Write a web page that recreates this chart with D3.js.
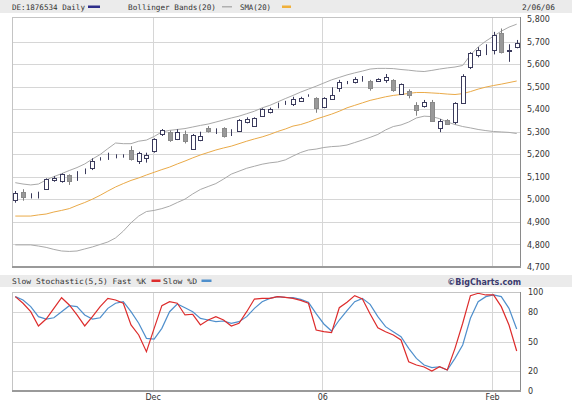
<!DOCTYPE html>
<html>
<head>
<meta charset="utf-8">
<script src="https://cdn.jsdelivr.net/npm/d3@7"></script>
<style>
  body { margin: 0; background: #fff; }
  svg { display: block; }
  .axis text { font-family: "DejaVu Sans", Verdana, sans-serif; font-size: 8px; fill: #333; }
  .hdr { font-family: "DejaVu Sans Mono", monospace; font-size: 7.6px; fill: #333; }
</style>
</head>
<body>
<script>
// daily candles, DE:1876534 (index 0 = first day shown, last = 2/06/06)
let open  = [4994,5034,5014,5019,5045,5086,5082,5108,5095,5125, 5137,5181,5196,5192,5192,5219,5167,5182,5211,5292,
             5300,5267,5292,5226,5263,5318,5307,5315,5300,5303, 5340,5325,5369,5388,5418,5427,5422,5436,5462,5448,
             5409,5444,5497,5516,5519,5536,5527,5525,5530,5530, 5466,5482,5419,5414,5433,5315,5352,5340,5431,5586,
             5640,5672,5662,5736,5661,5673]
let high  = [5037,5045,5027,5034,5093,5103,5115,5111,5125,5137, 5182,5187,5207,5200,5200,5236,5211,5207,5271,5312,
             5305,5311,5305,5290,5300,5325,5315,5320,5311,5356, 5364,5364,5404,5407,5429,5437,5455,5455,5466,5453,
             5453,5497,5530,5525,5542,5547,5530,5537,5556,5533, 5514,5488,5431,5441,5441,5356,5356,5431,5555,5653,
             5675,5688,5743,5758,5688,5707]
let low   = [4985,4994,5004,5004,5042,5078,5074,5064,5082,5112, 5130,5172,5175,5182,5185,5172,5157,5163,5207,5281,
             5255,5263,5248,5219,5258,5296,5290,5274,5281,5300, 5337,5322,5366,5381,5404,5419,5414,5433,5455,5384,
             5404,5441,5477,5511,5514,5522,5482,5521,5517,5477, 5463,5448,5371,5407,5344,5298,5330,5333,5426,5578,
             5630,5640,5643,5647,5610,5670]
let close = [5027,5010,5016,5021,5089,5093,5111,5082,5097,5126, 5170,5183,5198,5193,5193,5178,5204,5197,5266,5308,
             5263,5300,5263,5286,5281,5303,5309,5281,5301,5352, 5355,5359,5400,5400,5420,5429,5445,5451,5464,5404,
             5448,5463,5522,5518,5534,5538,5497,5533,5544,5485, 5511,5463,5397,5433,5347,5347,5333,5426,5549,5647,
             5663,5674,5729,5653,5664,5692]

// Bollinger Bands(20) and SMA(20)
let bbUpper = [5074,5068,5064,5068,5086,5101,5114,5128,5141,5157, 5179,5199,5225,5250,5247,5247,5258,5263,5279,5299,
               5306,5310,5314,5321,5328,5334,5343,5352,5361,5369, 5380,5391,5406,5417,5432,5447,5461,5476,5489,5502,
               5516,5530,5541,5552,5561,5569,5578,5581,5581,5580, 5576,5573,5569,5567,5572,5578,5583,5587,5594,5640,
               5676,5702,5724,5746,5764,5777]
let sma     = [4926,4926,4926,4931,4935,4944,4951,4959,4973,4986, 5001,5018,5037,5055,5070,5084,5095,5108,5120,5132,
               5143,5157,5170,5184,5197,5208,5219,5228,5236,5247, 5258,5268,5277,5288,5301,5312,5325,5332,5343,5356,
               5367,5378,5391,5406,5417,5428,5439,5447,5455,5461, 5465,5470,5474,5474,5472,5470,5467,5465,5469,5478,
               5489,5498,5505,5511,5518,5525]
let bbLower = [4798,4798,4798,4793,4787,4778,4771,4769,4771,4780, 4789,4800,4811,4829,4859,4896,4926,4946,4951,4959,
               4970,4986,5001,5024,5044,5057,5070,5090,5112,5125, 5138,5147,5156,5162,5166,5175,5192,5208,5219,5223,
               5230,5234,5236,5241,5252,5263,5275,5288,5308,5323, 5330,5343,5361,5369,5367,5358,5343,5332,5323,5317,
               5310,5305,5301,5299,5297,5292]

// Slow Stochastic(5,5)
let fastK = [95.3,88.6,80.1,65.7,72.7,83.5,94.2,86.9,76.8,65.7, 75.1,85.2,93.6,91.9,88.6,66.7,56.6,39.7,63.3,86.2,
             90.2,88.6,76.8,77.5,66.7,71.7,75.1,71.7,65.7,68.4, 80.1,92.9,93.6,93.6,95.3,94.5,93.6,91.6,88.6,61.6,
             59.9,58.9,84.1,89.6,96.3,92.9,77.8,63.9,59.9,56.6, 51.5,29.6,26.3,24.2,20.2,24.5,21.2,43.1,68.4,96.3,
             98.7,97.0,97.0,85.2,66.7,40.4]
let slowD = [95.3,91.9,85.2,75.1,72.7,74.0,80.1,86.2,85.2,76.8, 72.7,74.0,83.5,88.6,90.2,80.1,68.4,53.2,52.5,63.3,
             80.1,87.9,84.1,80.1,73.4,71.7,70.0,70.7,68.4,70.0, 75.1,83.5,90.2,93.6,95.3,94.6,94.3,92.6,89.6,78.1,
             67.7,60.6,71.7,81.1,90.2,93.6,87.5,75.1,65.0,59.9, 54.9,43.1,33.0,26.3,23.6,24.5,21.2,33.0,46.5,73.4,
             90.2,95.3,97.0,95.3,83.5,62.6]

let priceTicks = [4700,4800,4900,5000,5100,5200,5300,5400,5500,5600,5700,5800]
let stochTicks = [0,20,50,80,100]
let monthIdx = [18,40,62]
let monthLabels = ["Dec","06","Feb"]

let left = 12, right = 521

let svg = d3.select('body').append('svg')
  .attr('width', 572)
  .attr('height', 405)

let x = d3.scaleLinear().domain([0, close.length - 1]).range([15.3, 516.7])
let y = d3.scaleLinear().domain([4700, 5800]).range([267, 19])
let ys = d3.scaleLinear().domain([0, 100]).range([391, 292])

let px = v => Math.round(v) + 0.5
let mx = i => px(x(i) - 1.5)

// header strips
svg.append('rect').attr('x', 0).attr('y', 0).attr('width', 572).attr('height', 13).attr('fill', '#ebebeb')
svg.append('rect').attr('x', 0).attr('y', 275).attr('width', 572).attr('height', 12).attr('fill', '#ebebeb')

// price panel grid
let priceG = svg.append('g')
priceG.selectAll('.hgrid').data(priceTicks.slice(1, -1)).enter()
  .append('line')
  .attr('x1', left).attr('x2', right)
  .attr('y1', d => px(y(d))).attr('y2', d => px(y(d)))
  .attr('stroke', '#d6d6d6')
priceG.selectAll('.vgrid').data(monthIdx).enter()
  .append('line')
  .attr('x1', d => mx(d)).attr('x2', d => mx(d))
  .attr('y1', 17).attr('y2', 267)
  .attr('stroke', '#d6d6d6')

// stochastic panel grid
let stochG = svg.append('g')
stochG.selectAll('.hgrid').data([20, 50, 80]).enter()
  .append('line')
  .attr('x1', left).attr('x2', right)
  .attr('y1', d => px(ys(d))).attr('y2', d => px(ys(d)))
  .attr('stroke', '#d6d6d6')
stochG.selectAll('.vgrid').data(monthIdx).enter()
  .append('line')
  .attr('x1', d => mx(d)).attr('x2', d => mx(d))
  .attr('y1', 292).attr('y2', 391)
  .attr('stroke', '#d6d6d6')

// bands + sma
let line = d3.line().x((d, i) => x(i)).y(d => y(d))
priceG.append('path').datum(bbUpper).attr('d', line).attr('fill', 'none').attr('stroke', '#a9a9a9')
priceG.append('path').datum(bbLower).attr('d', line).attr('fill', 'none').attr('stroke', '#a9a9a9')
priceG.append('path').datum(sma).attr('d', line).attr('fill', 'none').attr('stroke', '#eaaa48')

// candles
let candles = priceG.selectAll('.candle').data(close).enter()
  .append('g').attr('class', 'candle')

candles.append('line')
  .attr('x1', (d, i) => px(x(i))).attr('x2', (d, i) => px(x(i)))
  .attr('y1', (d, i) => y(high[i])).attr('y2', (d, i) => y(low[i]))
  .attr('stroke', (d, i) => close[i] >= open[i] ? '#3b3b5c' : '#808080')

candles.append('rect')
  .attr('x', (d, i) => px(x(i)) - 2)
  .attr('width', 4)
  .attr('y', (d, i) => Math.round(y(Math.max(open[i], close[i]))) + 0.5)
  .attr('height', (d, i) => Math.max(Math.round(Math.abs(y(open[i]) - y(close[i]))), 0))
  .attr('fill', (d, i) => close[i] >= open[i] ? '#fff' : '#999')
  .attr('stroke', (d, i) => close[i] >= open[i] ? '#3b3b5c' : '#8a8a8a')

// stochastic lines
let sline = d3.line().x((d, i) => x(i)).y(d => ys(d))
stochG.append('path').datum(slowD).attr('d', sline).attr('fill', 'none').attr('stroke', '#4f8fcc').attr('stroke-width', 1.2)
stochG.append('path').datum(fastK).attr('d', sline).attr('fill', 'none').attr('stroke', '#dd2c2c').attr('stroke-width', 1.2)

// panel frames: light top/left, dark right/bottom
function frame(y0, y1) {
  svg.append('rect').attr('x', left + 0.5).attr('y', y0 + 0.5)
    .attr('width', right - left - 1).attr('height', y1 - y0 - 1)
    .attr('fill', 'none').attr('stroke', '#c4c4c4')
  svg.append('line').attr('x1', right - 0.5).attr('x2', right - 0.5).attr('y1', y0).attr('y2', y1 + 1)
    .attr('stroke', '#8a8a8a')
  svg.append('line').attr('x1', left).attr('x2', right).attr('y1', y1).attr('y2', y1)
    .attr('stroke', '#9a9a9a').attr('stroke-width', 2)
}
frame(17, 267)
frame(292, 391)

// axes
svg.append('g').attr('class', 'axis').attr('transform', 'translate(' + right + ',0)')
  .call(d3.axisRight(y).tickValues(priceTicks).tickSize(0).tickPadding(6).tickFormat(d3.format(',')))
  .call(g => g.select('.domain').remove())

svg.append('g').attr('class', 'axis').attr('transform', 'translate(' + right + ',0)')
  .call(d3.axisRight(ys).tickValues(stochTicks).tickSize(0).tickPadding(7))
  .call(g => g.select('.domain').remove())

svg.append('g').attr('class', 'axis').attr('transform', 'translate(-1.5,391)')
  .call(d3.axisBottom(x).tickValues(monthIdx).tickSize(0).tickPadding(3).tickFormat((d, i) => monthLabels[i]))
  .call(g => g.select('.domain').remove())

// legends
function legendText(t, xx, yy, w) {
  let el = svg.append('text').attr('class', 'hdr').attr('x', xx).attr('y', yy).text(t)
  if (w) el.attr('textLength', w).attr('lengthAdjust', 'spacingAndGlyphs')
}
function legendDash(xx, yy, w, h, c) {
  svg.append('rect').attr('x', xx).attr('y', yy).attr('width', w).attr('height', h).attr('fill', c)
}
legendText('DE:1876534 Daily', 12, 9.5, 73)
legendDash(88, 5.5, 12, 2.5, '#2e2e8a')
legendText('Bollinger Bands(20)', 128, 9.5, 88)
legendDash(222, 6, 10, 1.5, '#b0b0b0')
legendText('SMA(20)', 240, 9.5, 31)
legendDash(282, 5.5, 9, 2.5, '#f0b03a')
legendText('2/06/06', 522, 9.5, 33)

legendText('Slow Stochastic(5,5) Fast %K', 12, 284, 134)
legendDash(151.5, 279.5, 9, 2.5, '#dd2c2c')
legendText('Slow %D', 163, 284, 34)
legendDash(201.5, 279.5, 10, 2.5, '#4f8fcc')

svg.append('text')
  .attr('x', right).attr('y', 284.5)
  .attr('text-anchor', 'end')
  .attr('font-family', '"DejaVu Sans", Verdana, sans-serif')
  .attr('font-size', '8px').attr('font-weight', 'bold')
  .attr('fill', '#3a3a6e')
  .text('©BigCharts.com')
</script>
</body>
</html>
